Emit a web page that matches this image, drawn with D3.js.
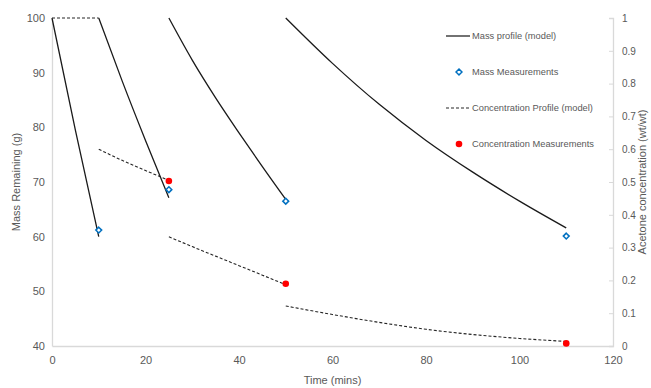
<!DOCTYPE html>
<html>
<head>
<meta charset="utf-8">
<script src="https://cdn.jsdelivr.net/npm/d3@7"></script>
<style>
  body { margin: 0; background: #fff; }
  text { font-family: "Liberation Sans", Arial, sans-serif; fill: #595959; }
</style>
</head>
<body>
<div id="wrapper"></div>
<script>
// model curves, one array per drying stage: [time, mass]
const massProfiles = [
  [[0, 100], [5, 79.5], [10, 60]],
  [[10, 100], [15, 88.5], [20, 77.6], [25, 67.1]],
  [[25, 100], [30, 92.3], [35, 85.4], [40, 79.0], [45, 72.8], [50, 66.8]],
  [[50, 100], [60, 91.7], [70, 84.2], [80, 77.6], [90, 71.8], [100, 66.5], [110, 61.6]],
]
const massMeasurements = [[10, 61.2], [25, 68.6], [50, 66.5], [110, 60.1]]

// concentration (right axis): [time, wt/wt]
const concProfiles = [
  [[0, 1], [10, 1]],
  [[10, 0.6], [15, 0.566], [20, 0.535], [25, 0.505]],
  [[25, 0.333], [30, 0.303], [35, 0.274], [40, 0.245], [45, 0.216], [50, 0.187]],
  [[50, 0.122], [60, 0.096], [70, 0.072], [80, 0.051], [90, 0.035], [100, 0.023], [110, 0.014]],
]
const concMeasurements = [[25, 0.503], [50, 0.19], [110, 0.008]]

const xTicks = [0, 20, 40, 60, 80, 100, 120]
const yTicks = [40, 50, 60, 70, 80, 90, 100]
const y2Ticks = [0, 0.1, 0.2, 0.3, 0.4, 0.5, 0.6, 0.7, 0.8, 0.9, 1]

const legendItems = [
  { label: "Mass profile (model)", kind: "line" },
  { label: "Mass Measurements", kind: "diamond" },
  { label: "Concentration Profile (model)", kind: "dash" },
  { label: "Concentration Measurements", kind: "dot" },
]

let dimensions = {
  width: 651,
  height: 388,
  margin: { top: 18, right: 38, bottom: 42, left: 52 },
}
dimensions.boundedWidth = dimensions.width - dimensions.margin.left - dimensions.margin.right
dimensions.boundedHeight = dimensions.height - dimensions.margin.top - dimensions.margin.bottom

const svg = d3.select("#wrapper").append("svg")
    .attr("width", dimensions.width)
    .attr("height", dimensions.height)

const bounds = svg.append("g")
    .attr("transform", `translate(${dimensions.margin.left},${dimensions.margin.top})`)

const xScale = d3.scaleLinear().domain([0, 120]).range([0, dimensions.boundedWidth])
const yScale = d3.scaleLinear().domain([40, 100]).range([dimensions.boundedHeight, 0])
const y2Scale = d3.scaleLinear().domain([0, 1]).range([dimensions.boundedHeight, 0])

// axes
const xAxis = bounds.append("g")
    .attr("transform", `translate(0,${dimensions.boundedHeight})`)
    .call(d3.axisBottom(xScale).tickValues(xTicks).tickSize(0).tickPadding(10))
const yAxis = bounds.append("g")
    .call(d3.axisLeft(yScale).tickValues(yTicks).tickSize(0).tickPadding(7))
const y2Axis = bounds.append("g")
    .attr("transform", `translate(${dimensions.boundedWidth},0)`)
    .call(d3.axisRight(y2Scale).tickValues(y2Ticks).tickSize(-4).tickPadding(9)
      .tickFormat(d => d3.format("")(+d.toFixed(1))))

;[xAxis, yAxis, y2Axis].forEach(a => {
  a.select(".domain").attr("stroke", "#d9d9d9").attr("stroke-width", 1.3)
  a.selectAll(".tick line").attr("stroke", "#d9d9d9")
  a.selectAll(".tick text").style("font-size", "11px").attr("fill", "#595959")
    .style("font-family", "'Liberation Sans', Arial, sans-serif")
})
y2Axis.selectAll(".tick text").style("font-size", "10px")

// axis titles
bounds.append("text")
    .attr("x", dimensions.boundedWidth / 2)
    .attr("y", dimensions.boundedHeight + 38)
    .attr("text-anchor", "middle")
    .style("font-size", "11px")
    .text("Time (mins)")
bounds.append("text")
    .attr("transform", `translate(${-32},${dimensions.boundedHeight / 2}) rotate(-90)`)
    .attr("text-anchor", "middle")
    .style("font-size", "11px")
    .text("Mass Remaining (g)")
bounds.append("text")
    .attr("transform", `translate(${dimensions.boundedWidth + 33},${dimensions.boundedHeight / 2}) rotate(-90)`)
    .attr("text-anchor", "middle")
    .style("font-size", "11px")
    .text("Acetone concentration (wt/wt)")

// model lines
const massLine = d3.line().x(d => xScale(d[0])).y(d => yScale(d[1])).curve(d3.curveMonotoneX)
const concLine = d3.line().x(d => xScale(d[0])).y(d => y2Scale(d[1])).curve(d3.curveMonotoneX)

bounds.selectAll(".mass-line")
  .data(massProfiles)
  .enter().append("path")
    .attr("class", "mass-line")
    .attr("d", massLine)
    .attr("fill", "none")
    .attr("stroke", "#1a1a1a")
    .attr("stroke-width", 1.3)

bounds.selectAll(".conc-line")
  .data(concProfiles)
  .enter().append("path")
    .attr("class", "conc-line")
    .attr("d", concLine)
    .attr("fill", "none")
    .attr("stroke", "#262626")
    .attr("stroke-width", 1.1)
    .attr("stroke-dasharray", "3,2")

// measurements
const diamond = d3.symbol().type(d3.symbolDiamond2).size(22)
bounds.selectAll(".mass-dot")
  .data(massMeasurements)
  .enter().append("path")
    .attr("class", "mass-dot")
    .attr("d", diamond)
    .attr("transform", d => `translate(${xScale(d[0])},${yScale(d[1])})`)
    .attr("fill", "#fff")
    .attr("stroke", "#0070c0")
    .attr("stroke-width", 1.5)

bounds.selectAll(".conc-dot")
  .data(concMeasurements)
  .enter().append("circle")
    .attr("class", "conc-dot")
    .attr("cx", d => xScale(d[0]))
    .attr("cy", d => y2Scale(d[1]))
    .attr("r", 3.3)
    .attr("fill", "#ff0000")

// legend
const legend = svg.append("g").attr("transform", "translate(446,36)")
const items = legend.selectAll("g")
  .data(legendItems)
  .enter().append("g")
    .attr("transform", (d, i) => `translate(0,${i * 36})`)

items.filter(d => d.kind === "line" || d.kind === "dash").append("line")
    .attr("x1", 0).attr("x2", 24)
    .attr("stroke", "#262626")
    .attr("stroke-width", d => d.kind === "line" ? 1.3 : 1.1)
    .attr("stroke-dasharray", d => d.kind === "dash" ? "3,2" : null)
items.filter(d => d.kind === "diamond").append("path")
    .attr("d", diamond)
    .attr("transform", "translate(13,0)")
    .attr("fill", "#fff")
    .attr("stroke", "#0070c0")
    .attr("stroke-width", 1.5)
items.filter(d => d.kind === "dot").append("circle")
    .attr("cx", 13).attr("r", 3.3)
    .attr("fill", "#ff0000")
items.append("text")
    .attr("x", 26)
    .attr("dy", "0.35em")
    .style("font-size", "9.3px")
    .text(d => d.label)
</script>
</body>
</html>
